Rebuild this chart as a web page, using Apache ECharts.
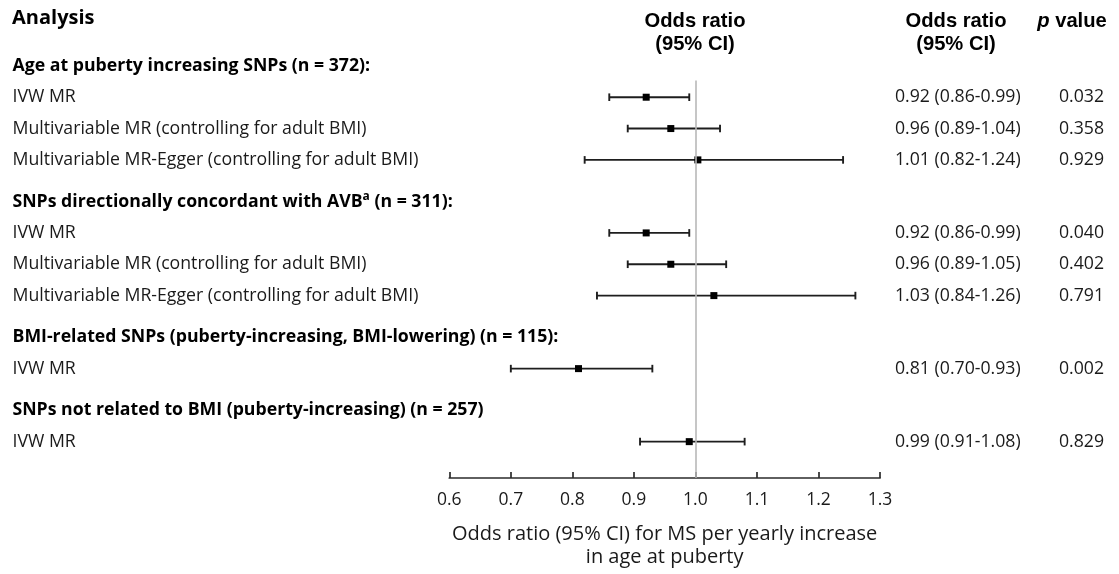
<!DOCTYPE html>
<html>
<head>
<meta charset="utf-8">
<script src="https://cdn.jsdelivr.net/npm/echarts@6/dist/echarts.min.js"></script>
<style>
html,body{margin:0;padding:0;background:#fff;}
#chart{width:1119px;height:574px;}
</style>
</head>
<body>
<div id="chart"></div>
<script>
// ---- data ----
const groupTitles = [
  'Age at puberty increasing SNPs (n = 372):',
  'SNPs directionally concordant with AVB{sup|a} (n = 311):',
  'BMI-related SNPs (puberty-increasing, BMI-lowering) (n = 115):',
  'SNPs not related to BMI (puberty-increasing) (n = 257)'
];
const methodGroup = [0, 0, 0, 1, 1, 1, 2, 3];
const methods = [
  'IVW MR',
  'Multivariable MR (controlling for adult BMI)',
  'Multivariable MR-Egger (controlling for adult BMI)',
  'IVW MR',
  'Multivariable MR (controlling for adult BMI)',
  'Multivariable MR-Egger (controlling for adult BMI)',
  'IVW MR',
  'IVW MR'
];
const oddsRatio = [0.92, 0.96, 1.004, 0.92, 0.96, 1.03, 0.81, 0.99];
const ciLow     = [0.86, 0.89, 0.82, 0.86, 0.89, 0.84, 0.70, 0.91];
const ciHigh    = [0.99, 1.04, 1.24, 0.99, 1.05, 1.26, 0.93, 1.08];
const orText = [
  '0.92 (0.86-0.99)', '0.96 (0.89-1.04)', '1.01 (0.82-1.24)',
  '0.92 (0.86-0.99)', '0.96 (0.89-1.05)', '1.03 (0.84-1.26)',
  '0.81 (0.70-0.93)', '0.99 (0.91-1.08)'
];
const pValues = ['0.032', '0.358', '0.929', '0.040', '0.402', '0.791', '0.002', '0.829'];
const xTicks = [0.6, 0.7, 0.8, 0.9, 1.0, 1.1, 1.2, 1.3];
const nullValue = 1.0;
const axisTitle = 'Odds ratio (95% CI) for MS per yearly increase\nin age at puberty';

// ---- layout of rows (row order -> vertical slot) ----
const groupGap = 0.33;
const headerY = [];
const rowY = [];
let pos = -1;
let lastGroup = -1;
methods.forEach((m, i) => {
  const g = methodGroup[i];
  if (g !== lastGroup) {
    pos += 1 + (lastGroup >= 0 ? groupGap : 0);
    headerY[g] = pos;
    lastGroup = g;
  }
  pos += 1;
  rowY[i] = pos;
});
const yMax = pos + 1.16;

const FONT = '"Open Sans", "Noto Sans", sans-serif';
const HFONT = '"Liberation Sans", Arial, sans-serif';
const TXT = '#1a1a1a';
const FS = 17.7;
const HFS = 20.2;

const chart = echarts.init(document.getElementById('chart'), null, {renderer: 'canvas'});

const option = {
  backgroundColor: '#ffffff',
  animation: false,
  grid: {left: 449.3, right: 239, top: 50.2, bottom: 92.3, containLabel: false},
  xAxis: {
    type: 'value',
    position: 'bottom',
    min: xTicks[0],
    max: xTicks[xTicks.length - 1],
    interval: 0.1,
    splitLine: {show: false},
    axisLine: {show: true, onZero: false, lineStyle: {color: '#2b2b2b', width: 1.7}},
    axisTick: {show: true, inside: true, length: 6, lineStyle: {color: '#2b2b2b', width: 1.7}},
    axisLabel: {
      fontFamily: FONT, fontSize: 17.5, color: TXT, margin: 13,
      formatter: v => v.toFixed(1)
    },
    name: axisTitle,
    nameLocation: 'middle',
    nameGap: 45,
    nameTextStyle: {fontFamily: FONT, fontSize: 20, color: TXT, lineHeight: 23}
  },
  yAxis: {
    type: 'value',
    inverse: true,
    min: -0.5,
    max: yMax,
    show: false
  },
  graphic: [
    {type: 'text', left: 12, top: 8, style: {text: 'Analysis', font: 'bold 20px ' + FONT, fill: '#000'}},
    {type: 'text', x: 695, y: 10, style: {text: 'Odds ratio\n(95% CI)', font: 'bold ' + HFS + 'px ' + HFONT, fill: '#000', align: 'center', lineHeight: 23}},
    {type: 'text', x: 956, y: 10, style: {text: 'Odds ratio\n(95% CI)', font: 'bold ' + HFS + 'px ' + HFONT, fill: '#000', align: 'center', lineHeight: 23}},
    {type: 'text', x: 1072, y: 10, style: {
      text: '{it|p} value', font: 'bold ' + HFS + 'px ' + HFONT, fill: '#000', align: 'center', lineHeight: 23,
      rich: {it: {fontStyle: 'italic', fontWeight: 'bold', fontSize: HFS, fontFamily: HFONT, fill: '#000', lineHeight: 23}}
    }}
  ],
  series: [
    {
      // error bars + point estimates
      type: 'custom',
      data: methods.map((m, i) => [oddsRatio[i], ciLow[i], ciHigh[i], rowY[i]]),
      encode: {x: [0, 1, 2], y: 3},
      renderItem: function (params, api) {
        const y = api.value(3);
        const p = api.coord([api.value(0), y]);
        const lo = api.coord([api.value(1), y]);
        const hi = api.coord([api.value(2), y]);
        const cap = 3.8, sq = 7;
        const ls = {stroke: '#1e1e1e', lineWidth: 1.9};
        return {
          type: 'group',
          children: [
            {type: 'line', shape: {x1: lo[0], y1: lo[1], x2: hi[0], y2: hi[1]}, style: ls},
            {type: 'line', shape: {x1: lo[0], y1: lo[1] - cap, x2: lo[0], y2: lo[1] + cap}, style: ls},
            {type: 'line', shape: {x1: hi[0], y1: hi[1] - cap, x2: hi[0], y2: hi[1] + cap}, style: ls},
            {type: 'rect', shape: {x: p[0] - sq / 2, y: p[1] - sq / 2, width: sq, height: sq}, style: {fill: '#000'}}
          ]
        };
      },
      markLine: {
        silent: true,
        symbol: ['none', 'none'],
        label: {show: false},
        lineStyle: {color: '#b8b8b8', width: 1.6, type: 'solid'},
        data: [[{coord: [nullValue, 0.47]}, {coord: [nullValue, yMax]}]]
      },
      z: 3
    },
    {
      // method labels and right-hand columns
      type: 'custom',
      data: methods.map((m, i) => [nullValue, rowY[i]]),
      encode: {x: 0, y: 1},
      clip: false,
      silent: true,
      renderItem: function (params, api) {
        const i = params.dataIndex;
        const yy = api.coord([api.value(0), api.value(1)])[1];
        const base = {fontFamily: FONT, fontSize: FS, fill: TXT, verticalAlign: 'middle'};
        return {
          type: 'group',
          children: [
            {type: 'text', style: Object.assign({}, base, {x: 12.5, y: yy, text: methods[i], align: 'left'})},
            {type: 'text', style: Object.assign({}, base, {x: 895, y: yy, text: orText[i], align: 'left'})},
            {type: 'text', style: Object.assign({}, base, {x: 1081.5, y: yy, text: pValues[i], align: 'center'})}
          ]
        };
      }
    },
    {
      // group headers
      type: 'custom',
      data: groupTitles.map((t, g) => [nullValue, headerY[g]]),
      encode: {x: 0, y: 1},
      clip: false,
      silent: true,
      renderItem: function (params, api) {
        const g = params.dataIndex;
        const yy = api.coord([api.value(0), api.value(1)])[1];
        return {
          type: 'text',
          style: {
            x: 12.5, y: yy, text: groupTitles[g], align: 'left', verticalAlign: 'middle',
            fontFamily: FONT, fontSize: FS, fontWeight: 'bold', fill: '#000', lineHeight: 22,
            rich: {sup: {fontFamily: FONT, fontSize: 12, fontWeight: 'bold', fill: '#000', verticalAlign: 'top', lineHeight: 13}}
          }
        };
      }
    }
  ]
};
chart.setOption(option);
</script>
</body>
</html>
